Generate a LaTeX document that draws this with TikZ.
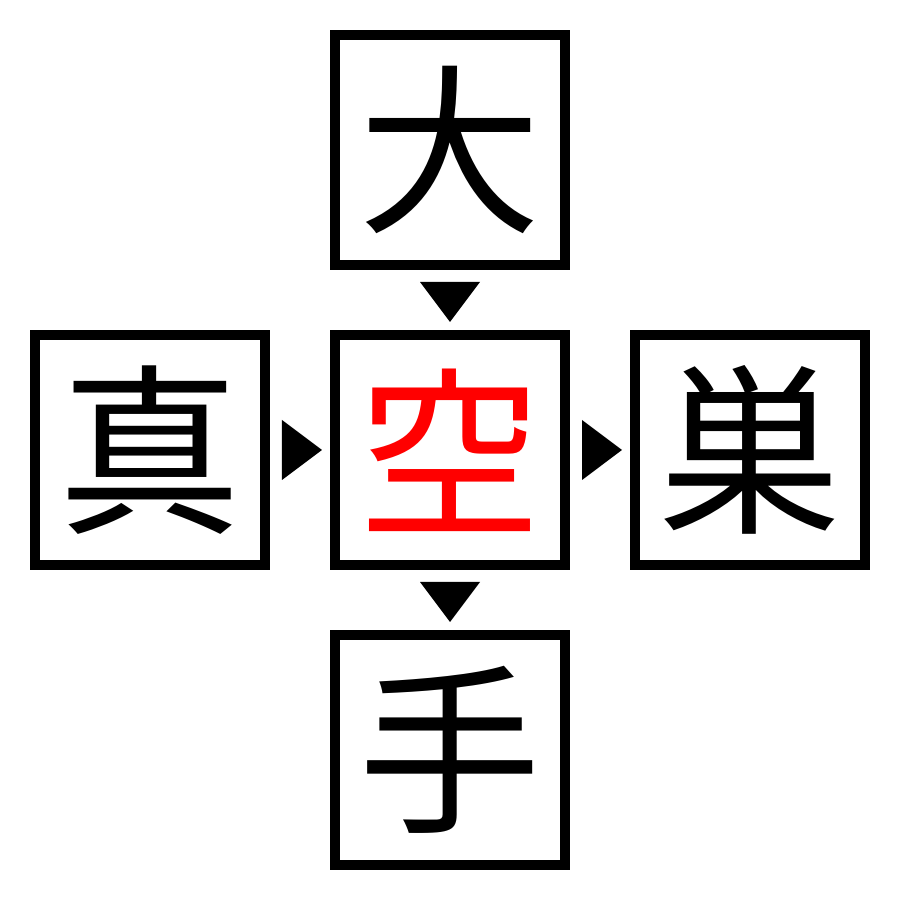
\documentclass[tikz,border=0pt]{standalone}
\usepackage{fontspec}
\newfontfamily\cjk{Noto Sans CJK JP}
\usepackage{tikz}
\usetikzlibrary{positioning}
\tikzstyle{kbox} = [rectangle, draw=black, line width=0.1cm, minimum size=2.3cm, inner sep=0pt, text centered, font=\cjk\fontsize{52}{52}\selectfont]
\tikzstyle{tri} = [fill=black]

\begin{document}
\begin{tikzpicture}[node distance=0.6cm and 0.6cm]
  \useasboundingbox (0,0) rectangle (9,9);
  \node (mid) [kbox, text=red] at (4.5,4.5) {空};
  \node (top) [kbox, above=of mid] {大};
  \node (left) [kbox, left=of mid] {真};
  \node (right) [kbox, right=of mid] {巣};
  \node (bottom) [kbox, below=of mid] {手};

  \fill [tri] (top.south) ++(-0.3,-0.12) -- ++(0.6,0) -- ++(-0.3,-0.4) -- cycle;
  \fill [tri] (mid.south) ++(-0.3,-0.12) -- ++(0.6,0) -- ++(-0.3,-0.4) -- cycle;
  \fill [tri] (left.east) ++(0.12,0.3) -- ++(0,-0.6) -- ++(0.4,0.3) -- cycle;
  \fill [tri] (mid.east) ++(0.12,0.3) -- ++(0,-0.6) -- ++(0.4,0.3) -- cycle;

\end{tikzpicture}
\end{document}
